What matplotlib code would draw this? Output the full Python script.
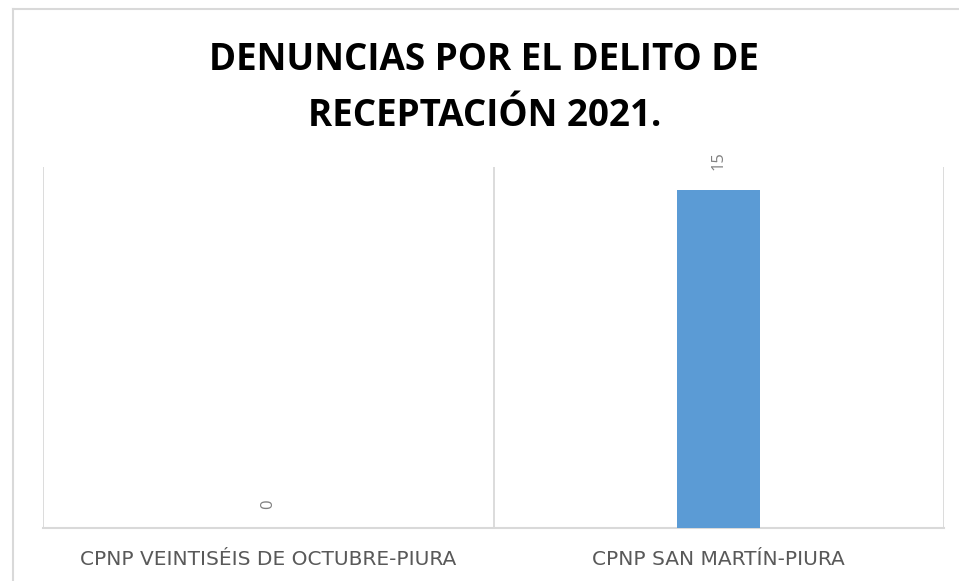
import matplotlib
matplotlib.use("Agg")
import matplotlib.pyplot as plt
from matplotlib.lines import Line2D

categories = ["CPNP VEINTISÉIS DE OCTUBRE-PIURA", "CPNP SAN MARTÍN-PIURA"]
values = [0, 15]
title = "DENUNCIAS POR EL DELITO DE\nRECEPTACIÓN 2021."

W, H = 959, 581
fig = plt.figure(figsize=(W / 100, H / 100), dpi=100)
fig.patch.set_facecolor("white")

grid_c = "#d9d9d9"
# chart-area border (top and left visible)
fig.add_artist(Line2D([13 / W, 1.0], [1 - 9 / H, 1 - 9 / H], color=grid_c, lw=1.5, transform=fig.transFigure))
fig.add_artist(Line2D([13 / W, 13 / W], [1 - 9 / H, 0.0], color=grid_c, lw=1.5, transform=fig.transFigure))

ax = fig.add_axes([43 / W, 1 - 528 / H, (944 - 43) / W, (528 - 167) / H])
x = list(range(len(categories)))
bars = ax.bar(x, values, width=0.184, color="#5b9bd5", zorder=3)
ax.set_xlim(-0.5, len(categories) - 0.5)
ax.set_ylim(0, 16)

for b in [-0.5, 0.5, 1.5]:
    ax.axvline(b, color=grid_c, lw=1.3, zorder=1)

for s in ["top", "left", "right"]:
    ax.spines[s].set_visible(False)
ax.spines["bottom"].set_color(grid_c)
ax.spines["bottom"].set_linewidth(1.5)
ax.set_yticks([])
ax.set_xticks(x)
ax.set_xticklabels(categories, fontfamily="DejaVu Sans", fontsize=14.5, color="#595959")
ax.tick_params(axis="x", length=0, pad=16)

for xi, v in zip(x, values):
    ax.annotate(str(v), (xi, v), xytext=(0, 14), textcoords="offset points",
                rotation=90, ha="center", va="bottom", fontsize=12,
                fontfamily="Open Sans", color="#808080")

fig.text(0.505, 1 - 88 / H, title, ha="center", va="center", fontsize=26.5,
         fontweight="bold", fontfamily="Open Sans", color="black", linespacing=1.65)

fig.savefig("out.png", dpi=100)
